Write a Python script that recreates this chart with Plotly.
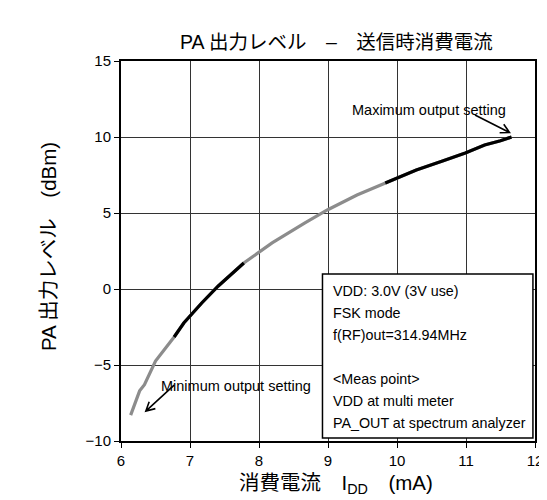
import math
import plotly.graph_objects as go

# PA output level vs supply current
current_ma = [6.14, 6.27, 6.34, 6.50, 6.77, 6.91, 7.17, 7.41, 7.78, 7.98, 8.19,
              8.66, 8.99, 9.42, 9.83, 10.28, 10.66, 10.99, 11.27, 11.50, 11.66]
level_dbm = [-8.3, -6.7, -6.3, -4.74, -3.16, -2.24, -0.92, 0.2, 1.71, 2.37, 3.03,
             4.34, 5.2, 6.18, 6.97, 7.83, 8.42, 8.95, 9.47, 9.75, 10.0]
# 1 = part of the curve drawn in black, 0 = grey
black_part = [0, 0, 0, 0, 1, 1, 1, 1, 1, 0, 0,
              0, 0, 0, 1, 1, 1, 1, 1, 1, 1]

x_ticks = [6, 7, 8, 9, 10, 11, 12]
y_ticks = [-10, -5, 0, 5, 10, 15]

info_lines = ["VDD: 3.0V (3V use)", "FSK mode", "f(RF)out=314.94MHz", "",
              "<Meas point>", "VDD at multi meter", "PA_OUT at spectrum analyzer"]

FONT = "Liberation Sans, Arial, Noto Sans CJK JP, sans-serif"
W, H = 547, 500
M = dict(l=113, r=13, t=53, b=67)
XR, YR = [6, 12], [-10, 15]
px_x = (W - M["l"] - M["r"]) / (XR[1] - XR[0])
px_y = (H - M["t"] - M["b"]) / (YR[1] - YR[0])


def arrow_path(tail, head, leg=10, ang=28):
    # open "V" arrow drawn as an svg path in data units
    dx = (head[0] - tail[0]) * px_x
    dy = (head[1] - tail[1]) * px_y
    a = math.atan2(dy, dx) + math.pi
    pts = []
    for s in (1, -1):
        t = a + s * math.radians(ang)
        pts.append((head[0] + leg * math.cos(t) / px_x, head[1] + leg * math.sin(t) / px_y))
    return (f"M {tail[0]},{tail[1]} L {head[0]},{head[1]} "
            f"M {pts[0][0]},{pts[0][1]} L {head[0]},{head[1]} L {pts[1][0]},{pts[1][1]}")


fig = go.Figure()
fig.add_trace(go.Scatter(x=current_ma, y=level_dbm, mode="lines",
                         line=dict(color="#8c8c8c", width=3.2), showlegend=False))
black_y = [y if b else None for y, b in zip(level_dbm, black_part)]
fig.add_trace(go.Scatter(x=current_ma, y=black_y, mode="lines", connectgaps=False,
                         line=dict(color="black", width=3.2), showlegend=False))

# info box
fig.add_shape(type="rect", xref="x", yref="y", x0=8.92, x1=11.97, y0=-9.8, y1=0.99,
              line=dict(color="black", width=1.5), fillcolor="white", layer="above")
for i, t in enumerate(info_lines):
    if not t:
        continue
    fig.add_annotation(x=9.05, y=-0.13 - i * 1.45, xref="x", yref="y",
                       text=t.replace("<", "&lt;").replace(">", "&gt;"),
                       showarrow=False, xanchor="left", yanchor="middle",
                       font=dict(size=14.3, color="black", family=FONT))

# arrows + labels
for tail, head in [((11.13, 11.45), (11.63, 10.3)), ((6.77, -6.32), (6.36, -8.03))]:
    fig.add_shape(type="path", xref="x", yref="y", path=arrow_path(tail, head),
                  line=dict(color="black", width=1.6), layer="above")
fig.add_annotation(x=10.47, y=11.78, xref="x", yref="y", text="Maximum output setting",
                   showarrow=False, font=dict(size=14.5, color="black", family=FONT))
fig.add_annotation(x=7.67, y=-6.38, xref="x", yref="y", text="Minimum output setting",
                   showarrow=False, font=dict(size=14.5, color="black", family=FONT))

# titles
fig.add_annotation(x=0.52, y=1.085, xref="paper", yref="paper",
                   text="PA 出力レベル　–　送信時消費電流", showarrow=False,
                   font=dict(size=19.5, color="black", family=FONT))
fig.add_annotation(x=0.52, y=-0.152, xref="paper", yref="paper",
                   text="消費電流　I<sub>DD</sub>　(mA)", showarrow=False,
                   font=dict(size=20.5, color="black", family=FONT))
fig.add_annotation(x=-0.209, y=0.513, xref="paper", yref="paper", textangle=-90,
                   text="PA 出力レベル　(dBm)", showarrow=False,
                   font=dict(size=20.5, color="black", family=FONT))

axis_common = dict(showgrid=True, gridcolor="#333333", gridwidth=1, showline=True,
                   linecolor="black", linewidth=2, mirror=True, ticks="outside",
                   ticklen=5, tickcolor="black", zeroline=False,
                   tickfont=dict(size=15, color="black", family=FONT))
fig.update_xaxes(range=XR, tickvals=x_ticks, **axis_common)
fig.update_yaxes(range=YR, tickvals=y_ticks, **axis_common)

fig.update_layout(width=W, height=H, plot_bgcolor="white", paper_bgcolor="white",
                  margin=M, showlegend=False, font=dict(family=FONT))
fig.write_html("out.html")
